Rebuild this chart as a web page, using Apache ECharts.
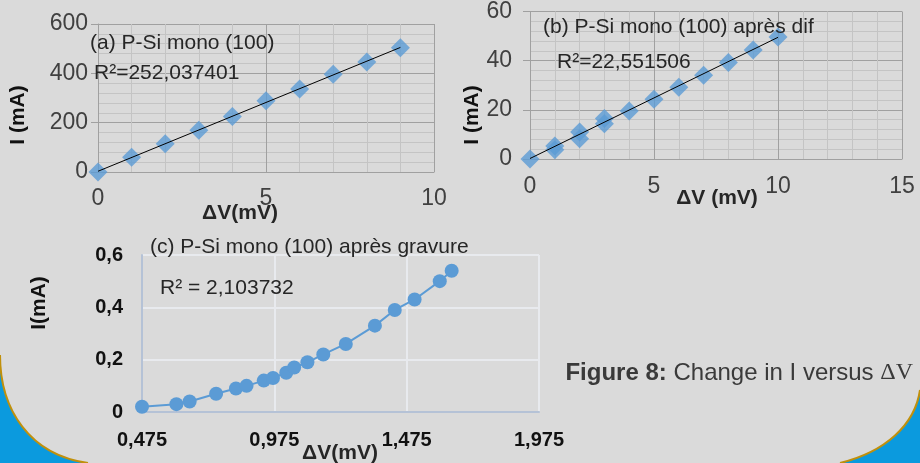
<!DOCTYPE html>
<html>
<head>
<meta charset="utf-8">
<script src="https://cdn.jsdelivr.net/npm/echarts@6/dist/echarts.min.js"></script>
<style>
html, body { margin: 0; padding: 0; background: #dadada; }
#chart { width: 920px; height: 463px; }
</style>
</head>
<body>
<div id="chart"></div>
<script>
// (a) P-Si mono (100)
var voltsA = [0, 1, 2, 3, 4, 5, 6, 7, 8, 9];
var currentA = [0, 60, 115, 169, 225, 289, 336, 396, 446, 504];
var trendA = [[0, 3], [9, 505]];

// (b) P-Si mono (100) apres dif
var voltsB = [0, 1, 1, 2, 2, 3, 3, 4, 5, 6, 7, 8, 9, 10];
var currentB = [0, 5.3, 3.8, 11, 8.2, 16.5, 14.3, 19.5, 24.3, 29.2, 34.1, 39.3, 44.3, 49.6];
var trendB = [[0, 0.2], [10, 49.5]];

// (c) P-Si mono (100) apres gravure
var voltsC = [0.475, 0.605, 0.655, 0.755, 0.83, 0.87, 0.935, 0.97, 1.02, 1.05, 1.10, 1.16, 1.245, 1.355, 1.43, 1.505, 1.60, 1.645];
var currentC = [0.02, 0.03, 0.04, 0.07, 0.09, 0.10, 0.12, 0.13, 0.15, 0.17, 0.19, 0.22, 0.26, 0.33, 0.39, 0.43, 0.50, 0.54];

var SANS = 'Liberation Sans, Arial, sans-serif';
var BLUE = '#5b9bd5';

function zip(xs, ys) {
    var out = [];
    for (var i = 0; i < xs.length; i++) out.push([xs[i], ys[i]]);
    return out;
}

function gridAxis(idx, min, max, interval, labelMargin, isY) {
    return {
        gridIndex: idx,
        type: 'value',
        min: min,
        max: max,
        interval: interval,
        axisLine: { show: true, onZero: false, lineStyle: { color: '#a0a0a0', width: 1 } },
        axisTick: { show: isY, length: 7, lineStyle: { color: '#a0a0a0' } },
        axisLabel: { margin: labelMargin, fontSize: 23, color: '#404040', fontFamily: SANS },
        splitLine: { show: true, lineStyle: { color: '#a0a0a0', width: 1 } },
        minorTick: { show: false, splitNumber: 5 },
        minorSplitLine: { show: true, lineStyle: { color: '#c4c4c4', width: 1 } }
    };
}

function label(text, x, y, size, bold, align) {
    return {
        type: 'text',
        z: 100,
        x: x, y: y,
        style: {
            text: text, x: 0, y: 0,
            fontSize: size, fontFamily: SANS, fontWeight: bold ? 'bold' : 'normal',
            fill: '#262626', align: align || 'left', verticalAlign: 'middle'
        }
    };
}

function vlabel(text, x, y, size) {
    var t = label(text, x, y, size, true, 'center');
    t.rotation = Math.PI / 2;
    t.style.fill = '#111';
    return t;
}

// decorative corner: cubic curve p0 -> p3, filled towards the image corner
function corner(p0, c1, c2, p3, cornerPt) {
    var pts = [];
    for (var i = 0; i <= 30; i++) {
        var t = i / 30, u = 1 - t;
        pts.push([
            u * u * u * p0[0] + 3 * u * u * t * c1[0] + 3 * u * t * t * c2[0] + t * t * t * p3[0],
            u * u * u * p0[1] + 3 * u * u * t * c1[1] + 3 * u * t * t * c2[1] + t * t * t * p3[1]
        ]);
    }
    pts.push(cornerPt);
    return [
        { type: 'polygon', z: -1, shape: { points: pts }, style: { fill: '#0b9ade' } },
        {
            type: 'bezierCurve', z: -1,
            shape: { x1: p0[0], y1: p0[1], cpx1: c1[0], cpy1: c1[1], cpx2: c2[0], cpy2: c2[1], x2: p3[0], y2: p3[1] },
            style: { fill: null, stroke: '#c0900c', lineWidth: 2 }
        }
    ];
}

var myChart = echarts.init(document.getElementById('chart'));

var graphics = []
    .concat(corner([0, 355], [0, 410], [30, 455], [88, 463], [0, 463]))
    .concat(corner([920, 390], [915, 425], [885, 452], [840, 463], [920, 463]))
    .concat([
        label('(a) P-Si mono (100)', 90, 43, 21, false),
        label('R\u00b2=252,037401', 94, 73, 21, false),
        label('\u0394V(mV)', 240, 213, 21, true, 'center'),
        vlabel('I (mA)', 18, 115, 21),

        label('(b) P-Si mono (100) apr\u00e8s dif', 543, 27, 21, false),
        label('R\u00b2=22,551506', 557, 62, 21, false),
        label('\u0394V (mV)', 717, 198, 21, true, 'center'),
        vlabel('I (mA)', 472, 115, 21),

        label('(c) P-Si mono (100) apr\u00e8s gravure', 150, 247, 21, false),
        label('R\u00b2 = 2,103732', 160, 288, 21, false),
        label('\u0394V(mV)', 340, 453, 21, true, 'center'),
        vlabel('I(mA)', 39, 303, 21),

        {
            type: 'text', z: 100, x: 913, y: 373,
            style: {
                text: '{b|Figure 8:}{n| Change in I versus }{s|\u0394V}',
                align: 'right', verticalAlign: 'middle',
                rich: {
                    b: { fontSize: 24, fontWeight: 'bold', fontFamily: SANS, fill: '#3a3a3a' },
                    n: { fontSize: 24, fontFamily: SANS, fill: '#3a3a3a' },
                    s: { fontSize: 24, fontFamily: 'Liberation Serif, Times New Roman, serif', fill: '#3a3a3a' }
                }
            }
        }
    ]);

var option = {
    backgroundColor: '#dadada',
    animation: false,
    grid: [
        { left: 98, top: 24, width: 336, height: 148 },
        { left: 530, top: 7, width: 372, height: 152 },
        { left: 142, top: 255, width: 397, height: 157 }
    ],
    xAxis: [
        gridAxis(0, 0, 10, 5, 15, false),
        gridAxis(1, 0, 15, 5, 16, false),
        {
            gridIndex: 2,
            type: 'value',
            min: 0.475,
            max: 1.975,
            interval: 0.5,
            axisLine: { show: true, onZero: false, lineStyle: { color: '#b5c2d6', width: 2 } },
            axisTick: { show: false },
            axisLabel: {
                margin: 18, fontSize: 20, fontWeight: 'bold', color: '#111', fontFamily: SANS,
                formatter: function (v) { return v.toFixed(3).replace('.', ','); }
            },
            splitLine: { show: true, lineStyle: { color: '#e8eaee', width: 2 } }
        }
    ],
    yAxis: [
        gridAxis(0, 0, 600, 200, 10, true),
        gridAxis(1, 0, 60, 20, 18, true),
        {
            gridIndex: 2,
            type: 'value',
            min: 0,
            max: 0.6,
            interval: 0.2,
            axisLine: { show: true, lineStyle: { color: '#b5c2d6', width: 2 } },
            axisTick: { show: false },
            axisLabel: {
                margin: 19, fontSize: 20, fontWeight: 'bold', color: '#111', fontFamily: SANS,
                formatter: function (v) { return v === 0 ? '0' : String(+v.toFixed(1)).replace('.', ','); }
            },
            splitLine: { show: true, lineStyle: { color: '#e8eaee', width: 2 } }
        }
    ],
    series: [
        {
            type: 'scatter', xAxisIndex: 0, yAxisIndex: 0,
            symbol: 'diamond', symbolSize: 19,
            itemStyle: { color: BLUE },
            data: zip(voltsA, currentA)
        },
        {
            type: 'line', xAxisIndex: 0, yAxisIndex: 0, z: 5,
            showSymbol: false, symbol: 'none',
            lineStyle: { color: '#000', width: 1 },
            data: trendA
        },
        {
            type: 'scatter', xAxisIndex: 1, yAxisIndex: 1,
            symbol: 'diamond', symbolSize: 19,
            itemStyle: { color: BLUE },
            data: zip(voltsB, currentB)
        },
        {
            type: 'line', xAxisIndex: 1, yAxisIndex: 1, z: 5,
            showSymbol: false, symbol: 'none',
            lineStyle: { color: '#000', width: 1 },
            data: trendB
        },
        {
            type: 'line', xAxisIndex: 2, yAxisIndex: 2,
            symbol: 'circle', symbolSize: 14,
            lineStyle: { color: BLUE, width: 2 },
            itemStyle: { color: BLUE },
            data: zip(voltsC, currentC)
        }
    ],
    graphic: graphics
};

myChart.setOption(option);
</script>
</body>
</html>
